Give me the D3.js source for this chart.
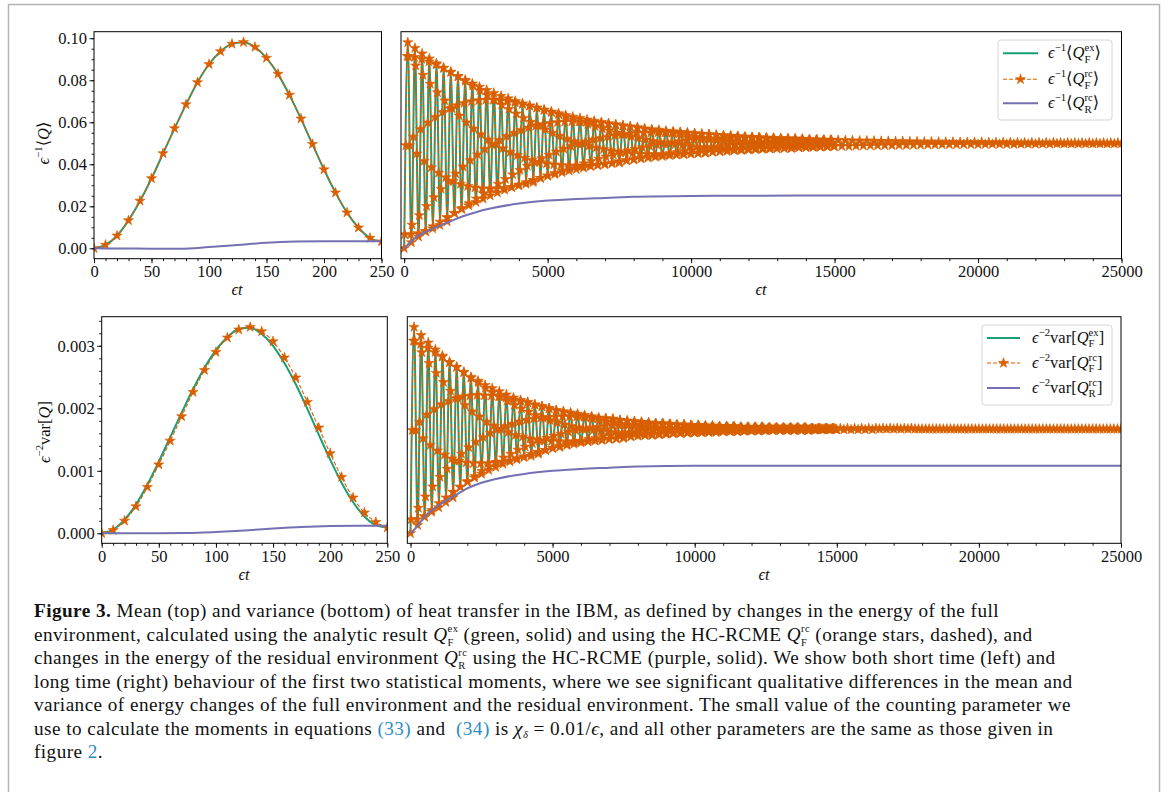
<!DOCTYPE html>
<html>
<head>
<meta charset="utf-8">
<script src="https://cdn.jsdelivr.net/npm/d3@7"></script>
<style>
  body { margin: 0; background: #fff; }
  svg text { font-family: "Liberation Serif", "DejaVu Serif", serif; white-space: pre; }
</style>
</head>
<body>
<svg id="fig" width="1168" height="792"></svg>
<script>
// ---- data ----
// short time window, stars every 10
var shortT = d3.range(0, 251, 10);
var meanExShort = [0, 0.0016, 0.0060, 0.0133, 0.0225, 0.0332, 0.0451, 0.0570, 0.0684, 0.0790, 0.0876, 0.0937, 0.0973,
  0.0981, 0.0957, 0.0905, 0.0829, 0.0729, 0.0616, 0.0495, 0.0375, 0.0265, 0.0170, 0.0098, 0.0049, 0.0032];
var meanRcShort = [0, 0.0016, 0.0060, 0.0133, 0.0226, 0.0333, 0.0452, 0.0571, 0.0685, 0.0790, 0.0876, 0.0937, 0.0973,
  0.0981, 0.0958, 0.0906, 0.0830, 0.0730, 0.0617, 0.0496, 0.0375, 0.0265, 0.0170, 0.0098, 0.0049, 0.0032];
// variances in units of 1e-3
var varExShort = [0, 0.06, 0.22, 0.46, 0.78, 1.15, 1.54, 1.93, 2.31, 2.65, 2.93, 3.14, 3.27,
  3.29, 3.19, 3.00, 2.72, 2.38, 1.99, 1.58, 1.18, 0.81, 0.50, 0.27, 0.13, 0.09];
var varRcShort = [0, 0.05, 0.20, 0.43, 0.74, 1.10, 1.48, 1.87, 2.26, 2.61, 2.90, 3.13, 3.26,
  3.30, 3.23, 3.07, 2.81, 2.49, 2.10, 1.69, 1.28, 0.90, 0.57, 0.33, 0.18, 0.09];

var resShortT = [0, 25, 50, 75, 100, 125, 150, 175, 200, 225, 250];
var meanResShort = [0, -0.0001, -0.0002, -0.0002, 0.0006, 0.0016, 0.0026, 0.0032, 0.0034, 0.0034, 0.0033];
var varResShort = [0, 0, 0, 0.003, 0.02, 0.045, 0.075, 0.10, 0.115, 0.12, 0.12];

// long time window: one oscillation every 250, troughs at k*250, peaks half way
var PERIOD = 250;
var meanPeaksLong = [
  .0980, .0953, .0927, .0903, .0880, .0859, .0839, .0819, .0801, .0784,
  .0768, .0753, .0739, .0725, .0713, .0701, .0689, .0679, .0669, .0659,
  .0650, .0642, .0634, .0626, .0619, .0612, .0606, .0600, .0594, .0589,
  .0584, .0579, .0575, .0570, .0566, .0563, .0559, .0556, .0553, .0550,
  .0547, .0544, .0542, .0539, .0537, .0535, .0533, .0531, .0529, .0528,
  .0526, .0525, .0523, .0522, .0521, .0520, .0518, .0517, .0516, .0516,
  .0515, .0514, .0513, .0512, .0512, .0511, .0510, .0510, .0509, .0509,
  .0508, .0508, .0507, .0507, .0506, .0506, .0506, .0505, .0505, .0505,
  .0505, .0504, .0504, .0504, .0504, .0503, .0503, .0503, .0503, .0503,
  .0503, .0502, .0502, .0502, .0502, .0502, .0502, .0502, .0502, .0502];
var meanTroughsLong = [
  0, .0028, .0055, .0080, .0104, .0126, .0147, .0167, .0186, .0204,
  .0220, .0236, .0251, .0265, .0278, .0291, .0303, .0314, .0324, .0334,
  .0344, .0353, .0361, .0369, .0376, .0383, .0390, .0396, .0402, .0407,
  .0413, .0418, .0422, .0427, .0431, .0435, .0438, .0442, .0445, .0448,
  .0451, .0454, .0457, .0459, .0461, .0463, .0466, .0467, .0469, .0471,
  .0473, .0474, .0476, .0477, .0478, .0480, .0481, .0482, .0483, .0484,
  .0485, .0486, .0486, .0487, .0488, .0489, .0489, .0490, .0490, .0491,
  .0491, .0492, .0492, .0493, .0493, .0494, .0494, .0494, .0495, .0495,
  .0495, .0496, .0496, .0496, .0496, .0496, .0497, .0497, .0497, .0497,
  .0497, .0498, .0498, .0498, .0498, .0498, .0498, .0498, .0498, .0498, .0499];
var varPeaksLong = [
  3.30, 3.17, 3.05, 2.94, 2.84, 2.74, 2.66, 2.58, 2.50, 2.44,
  2.37, 2.32, 2.27, 2.22, 2.17, 2.13, 2.10, 2.06, 2.03, 2.00,
  1.97, 1.95, 1.93, 1.91, 1.89, 1.87, 1.85, 1.84, 1.83, 1.81,
  1.80, 1.79, 1.78, 1.77, 1.76, 1.76, 1.75, 1.74, 1.74, 1.73,
  1.73, 1.72, 1.72, 1.71, 1.71, 1.71, 1.70, 1.70, 1.70, 1.70,
  1.69, 1.69, 1.69, 1.69, 1.69, 1.69, 1.68, 1.68, 1.68, 1.68,
  1.68, 1.68, 1.68, 1.68, 1.68, 1.68, 1.68, 1.68, 1.68, 1.68,
  1.68, 1.67, 1.67, 1.67, 1.67, 1.67, 1.67, 1.67, 1.67, 1.67,
  1.67, 1.67, 1.67, 1.67, 1.67, 1.67, 1.67, 1.67, 1.67, 1.67,
  1.67, 1.67, 1.67, 1.67, 1.67, 1.67, 1.67, 1.67, 1.67, 1.67];
var varTroughsLong = [
  0, 0.13, 0.26, 0.37, 0.48, 0.57, 0.66, 0.74, 0.82, 0.89,
  0.95, 1.01, 1.06, 1.11, 1.15, 1.20, 1.23, 1.27, 1.30, 1.33,
  1.36, 1.38, 1.41, 1.43, 1.45, 1.47, 1.48, 1.50, 1.51, 1.52,
  1.54, 1.55, 1.56, 1.57, 1.57, 1.58, 1.59, 1.60, 1.60, 1.61,
  1.61, 1.62, 1.62, 1.62, 1.63, 1.63, 1.63, 1.64, 1.64, 1.64,
  1.65, 1.65, 1.65, 1.65, 1.65, 1.65, 1.65, 1.66, 1.66, 1.66,
  1.66, 1.66, 1.66, 1.66, 1.66, 1.66, 1.67, 1.67, 1.67, 1.67,
  1.67, 1.67, 1.67, 1.67, 1.67, 1.67, 1.67, 1.67, 1.67, 1.67,
  1.67, 1.67, 1.67, 1.67, 1.67, 1.67, 1.67, 1.67, 1.67, 1.67,
  1.67, 1.67, 1.67, 1.67, 1.67, 1.67, 1.67, 1.67, 1.67, 1.67, 1.67];

// the long-time star markers sit at drifting phases inside each swing:
// relative height of a marker (-1 = trough, +1 = peak) at each 5 degree phase step
var phaseLevels = [
  -1, -.996, -.985, -.966, -.940, -.906, -.866, -.819, -.766, -.707, -.643, -.574,
  -.5, -.423, -.342, -.259, -.174, -.087, 0, .087, .174, .259, .342, .423,
  .5, .574, .643, .707, .766, .819, .866, .906, .940, .966, .985, .996,
  1, .996, .985, .966, .940, .906, .866, .819, .766, .707, .643, .574,
  .5, .423, .342, .259, .174, .087, 0, -.087, -.174, -.259, -.342, -.423,
  -.5, -.574, -.643, -.707, -.766, -.819, -.866, -.906, -.940, -.966, -.985, -.996];
var chainOffsets = [6, 18, 30, 42, 54, 66];
var chainPeriods = 60;

var resLongT = [0, 250, 500, 750, 1000, 1500, 2000, 2500, 3000, 4000, 5000, 6000, 7000, 8000, 10000, 12000, 15000, 20000, 25000];
var meanResLong = [0, 0.0033, 0.0060, 0.0078, 0.0094, 0.0122, 0.0150, 0.0172, 0.0189, 0.0213, 0.0227, 0.0235, 0.0240,
  0.0245, 0.0249, 0.0250, 0.0251, 0.0251, 0.0251];
var varResLong = [0, 0.12, 0.27, 0.37, 0.45, 0.59, 0.72, 0.81, 0.87, 0.95, 1.00, 1.03, 1.05, 1.07, 1.08, 1.08, 1.08, 1.08, 1.08];

var shortTicks = [0, 50, 100, 150, 200, 250];
var longTicks = [0, 5000, 10000, 15000, 20000, 25000];
var meanTicks = [0, 0.02, 0.04, 0.06, 0.08, 0.10];
var varTicks = [0, 0.001, 0.002, 0.003];

var colors = { ex: "#1b9e77", rc: "#d95f02", res: "#7570b3" };

// ---- helpers ----
var svg = d3.select("#fig");
var SERIF = "'Liberation Serif', 'DejaVu Serif', serif";

function zip(ts, vs, k) {
  return ts.map(function(t, i) { return [t, vs[i] * (k || 1)]; });
}
function interleave(troughs, peaks, k) {
  var out = [];
  troughs.forEach(function(v, i) {
    out.push([i * PERIOD, v * (k || 1)]);
    if (i < peaks.length) out.push([i * PERIOD + PERIOD / 2, peaks[i] * (k || 1)]);
  });
  return out;
}
function chainStars(troughs, peaks, k) {
  var out = [], n = phaseLevels.length;
  for (var p = 0; p < chainPeriods; p++) {
    var mid = (troughs[p] + peaks[p]) / 2, half = (peaks[p] - troughs[p]) / 2;
    chainOffsets.forEach(function(off) {
      var idx = (off + p) % n;
      out.push([p * PERIOD + idx * PERIOD / n, (mid + half * phaseLevels[idx]) * (k || 1)]);
    });
  }
  return out;
}

// text made of pieces: {s, i: italic, b: bold, l: 1 sup / -1 sub, stack: same x as previous piece, c: colour}
function mathText(parent, x, y, pieces, fs, anchor, ls, sr) {
  var g = parent.append("g");
  var cx = 0, lastStart = 0;
  sr = sr || 0.65;
  pieces.forEach(function(p) {
    var size = p.l ? fs * sr : fs;
    var dy = p.l === 1 ? -0.43 * fs : (p.l === -1 ? (p.stack ? 0.27 : 0.2) * fs : 0);
    var px = p.stack ? lastStart : cx;
    var t = g.append("text").attr("x", px).attr("y", dy)
      .attr("font-size", size)
      .attr("font-style", p.i ? "italic" : "normal")
      .attr("font-weight", p.b ? "bold" : "normal")
      .attr("fill", p.c || "#111")
      .style("letter-spacing", (ls || 0) + "px")
      .text(p.s);
    var w = t.node().getComputedTextLength();
    if (p.stack) cx = Math.max(cx, px + w);
    else { lastStart = px; cx = px + w; }
  });
  var shift = anchor === "middle" ? -cx / 2 : (anchor === "end" ? -cx : 0);
  g.attr("transform", "translate(" + (x + shift) + "," + y + ")");
  return cx;
}

function makePanel(cfg) {
  var x = d3.scaleLinear().domain(cfg.xd).range([cfg.x0, cfg.x1]);
  var y = d3.scaleLinear().domain(cfg.yd).range([cfg.y1, cfg.y0]);
  svg.append("clipPath").attr("id", "clip-" + cfg.name)
    .append("rect").attr("x", cfg.x0).attr("y", cfg.y0)
    .attr("width", cfg.x1 - cfg.x0).attr("height", cfg.y1 - cfg.y0);

  var ax = svg.append("g").attr("transform", "translate(0," + cfg.y1 + ")");
  ax.append("g").call(d3.axisBottom(x).tickValues(cfg.xMinor).tickSize(2.5).tickFormat(""));
  ax.append("g").call(d3.axisBottom(x).tickValues(cfg.xMajor).tickSize(4.5).tickPadding(2.5)
    .tickFormat(d3.format("d")));
  if (cfg.yMajor) {
    var ay = svg.append("g").attr("transform", "translate(" + cfg.x0 + ",0)");
    ay.append("g").call(d3.axisLeft(y).tickValues(cfg.yMinor).tickSize(2.5).tickFormat(""));
    ay.append("g").call(d3.axisLeft(y).tickValues(cfg.yMajor).tickSize(4.5).tickPadding(2.5)
      .tickFormat(cfg.yFmt));
  }
  svg.selectAll(".domain").remove();
  svg.selectAll(".tick line").attr("stroke", "#000").attr("stroke-width", 0.9);
  svg.selectAll(".tick text").attr("fill", "#111")
    .style("font-family", SERIF).style("font-size", "16.5px");

  var plot = svg.append("g").attr("clip-path", "url(#clip-" + cfg.name + ")");
  return { x: x, y: y, plot: plot, cfg: cfg };
}

var starPath = d3.symbol().type(d3.symbolStar).size(32);

function drawSeries(p, ex, rc, res, stars) {
  var line = d3.line().x(function(d) { return p.x(d[0]); }).y(function(d) { return p.y(d[1]); })
    .curve(d3.curveMonotoneX);
  p.plot.append("path").datum(ex).attr("d", line).attr("fill", "none")
    .attr("stroke", colors.ex).attr("stroke-width", 2);
  p.plot.append("path").datum(rc).attr("d", line).attr("fill", "none")
    .attr("stroke", colors.rc).attr("stroke-width", 1.1).attr("stroke-dasharray", "4,2");
  p.plot.selectAll(".star").data(stars).enter().append("path")
    .attr("d", starPath)
    .attr("transform", function(d) { return "translate(" + p.x(d[0]) + "," + p.y(d[1]) + ")"; })
    .attr("fill", colors.rc).attr("stroke", colors.rc).attr("stroke-width", 0.6);
  p.plot.append("path").datum(res).attr("d", line).attr("fill", "none")
    .attr("stroke", colors.res).attr("stroke-width", 2);
  var c = p.cfg;
  svg.append("rect").attr("x", c.x0).attr("y", c.y0).attr("width", c.x1 - c.x0).attr("height", c.y1 - c.y0)
    .attr("fill", "none").attr("stroke", "#000").attr("stroke-width", 1);
}

function legend(x0, y0, w, h, lineX0, lineX1, textX, rows, labels) {
  var g = svg.append("g");
  g.append("rect").attr("x", x0).attr("y", y0).attr("width", w).attr("height", h).attr("rx", 3)
    .attr("fill", "#fff").attr("fill-opacity", 0.85).attr("stroke", "#d6d6d6").attr("stroke-width", 1);
  var keys = ["ex", "rc", "res"];
  keys.forEach(function(k, i) {
    var yy = rows[i];
    g.append("line").attr("x1", lineX0).attr("x2", lineX1).attr("y1", yy).attr("y2", yy)
      .attr("stroke", colors[k]).attr("stroke-width", k === "rc" ? 1.1 : 2)
      .attr("stroke-dasharray", k === "rc" ? "4,2" : null);
    if (k === "rc") {
      g.append("path").attr("d", starPath)
        .attr("transform", "translate(" + (lineX0 + lineX1) / 2 + "," + yy + ")")
        .attr("fill", colors.rc).attr("stroke", colors.rc).attr("stroke-width", 0.6);
    }
    mathText(g, textX, yy + 5, labels[i], 16.5, "start");
  });
}

function qParts(sup, sub) {
  return [{ s: "Q", i: true }, { s: sup, l: 1 }, { s: sub, l: -1, stack: true }];
}

// ---- figure frame ----
svg.append("path").attr("d", "M8.5,792V4.5H1159.5V792").attr("fill", "none")
  .attr("stroke", "#b4b4b4").attr("stroke-width", 1.5);

// ---- panels ----
var fmt2 = d3.format(".2f");
var fmt3 = d3.format(".3f");

var tl = makePanel({ name: "tl", x0: 94, x1: 381.5, y0: 31.7, y1: 258.7, xd: [0, 250], yd: [-0.00495, 0.1031],
  xMajor: shortTicks, xMinor: d3.range(0, 251, 10), yMajor: meanTicks, yMinor: d3.range(0, 0.1001, 0.005), yFmt: fmt2 });
var tr = makePanel({ name: "tr", x0: 401, x1: 1121.5, y0: 31.7, y1: 258.7, xd: [-111, 25000], yd: [-0.00495, 0.1031],
  xMajor: longTicks, xMinor: d3.range(0, 25001, 1000) });
var bl = makePanel({ name: "bl", x0: 101.7, x1: 387.3, y0: 316.7, y1: 543.3, xd: [0, 250], yd: [-0.00016, 0.003466],
  xMajor: shortTicks, xMinor: d3.range(0, 251, 10), yMajor: varTicks, yMinor: d3.range(0, 0.00341, 0.0002), yFmt: fmt3 });
var br = makePanel({ name: "br", x0: 407.3, x1: 1121, y0: 316.7, y1: 543.3, xd: [-113, 25000], yd: [-0.00016, 0.003466],
  xMajor: longTicks, xMinor: d3.range(0, 25001, 1000) });

var E3 = 1e-3;
drawSeries(tl, zip(shortT, meanExShort), zip(shortT, meanRcShort), zip(resShortT, meanResShort), zip(shortT, meanRcShort));
var meanLong = interleave(meanTroughsLong, meanPeaksLong);
drawSeries(tr, meanLong, meanLong, zip(resLongT, meanResLong),
  meanLong.concat(chainStars(meanTroughsLong, meanPeaksLong)));
drawSeries(bl, zip(shortT, varExShort, E3), zip(shortT, varRcShort, E3), zip(resShortT, varResShort, E3), zip(shortT, varRcShort, E3));
var varLong = interleave(varTroughsLong, varPeaksLong, E3);
drawSeries(br, varLong, varLong, zip(resLongT, varResLong, E3),
  varLong.concat(chainStars(varTroughsLong, varPeaksLong, E3)));

// ---- axis labels ----
[[237, 295], [761, 295], [244, 580], [764, 580]].forEach(function(p) {
  mathText(svg, p[0], p[1], [{ s: "ϵ", i: true }, { s: "t", i: true }], 16.5, "middle");
});
var yl1 = svg.append("g").attr("transform", "translate(49,143) rotate(-90)");
mathText(yl1, 0, 0, [{ s: "ϵ", i: true }, { s: "−1", l: 1 }, { s: "⟨" }, { s: "Q", i: true }, { s: "⟩" }], 16.5, "middle");
var yl2 = svg.append("g").attr("transform", "translate(50,432) rotate(-90)");
mathText(yl2, 0, 0, [{ s: "ϵ", i: true }, { s: "−2", l: 1 }, { s: "var[" }, { s: "Q", i: true }, { s: "]" }], 16.5, "middle");

// ---- legends ----
function meanLabel(sup, sub) {
  return [{ s: "ϵ", i: true }, { s: "−1", l: 1 }, { s: "⟨" }].concat(qParts(sup, sub), [{ s: "⟩" }]);
}
function varLabel(sup, sub) {
  return [{ s: "ϵ", i: true }, { s: "−2", l: 1 }, { s: "var[" }].concat(qParts(sup, sub), [{ s: "]" }]);
}
legend(998, 40, 114, 80, 1003, 1038, 1048, [53.3, 79.3, 103.3],
  [meanLabel("ex", "F"), meanLabel("rc", "F"), meanLabel("rc", "R")]);
legend(982, 325, 130, 80, 987, 1020, 1032, [338, 363, 388],
  [varLabel("ex", "F"), varLabel("rc", "F"), varLabel("rc", "R")]);

// ---- caption ----
var blue = "#2b8cc4";
var capLines = [
  [{ s: "Figure 3.", b: true }, { s: " Mean (top) and variance (bottom) of heat transfer in the IBM, as defined by changes in the energy of the full" }],
  [{ s: "environment, calculated using the analytic result " }].concat(qParts("ex", "F"),
    [{ s: " (green, solid) and using the HC-RCME " }], qParts("rc", "F"), [{ s: " (orange stars, dashed), and" }]),
  [{ s: "changes in the energy of the residual environment " }].concat(qParts("rc", "R"),
    [{ s: " using the HC-RCME (purple, solid). We show both short time (left) and" }]),
  [{ s: "long time (right) behaviour of the first two statistical moments, where we see significant qualitative differences in the mean and" }],
  [{ s: "variance of energy changes of the full environment and the residual environment. The small value of the counting parameter we" }],
  [{ s: "use to calculate the moments in equations " }, { s: "(33)", c: blue }, { s: " and  " }, { s: "(34)", c: blue },
    { s: " is " }, { s: "χ", i: true }, { s: "δ", i: true, l: -1 }, { s: " = 0.01/" }, { s: "ϵ", i: true },
    { s: ", and all other parameters are the same as those given in" }],
  [{ s: "figure " }, { s: "2", c: blue }, { s: "." }]
];
capLines.forEach(function(parts, i) {
  mathText(svg, 34, 617 + i * 23.5, parts, 19.2, "start", 0.45, 0.55);
});
</script>
</body>
</html>
